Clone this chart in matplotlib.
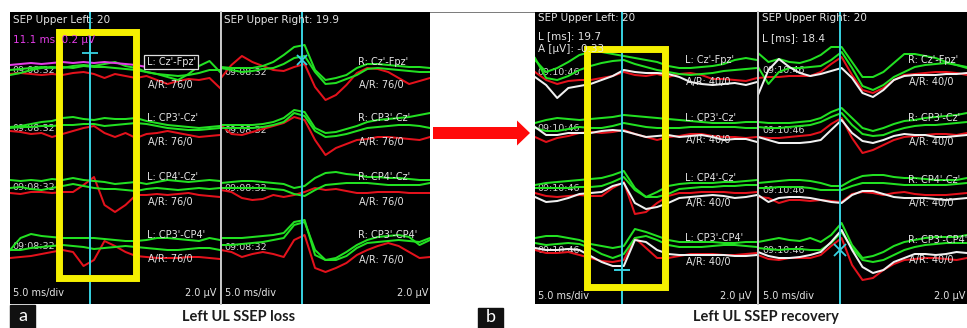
import numpy as np
import matplotlib.pyplot as plt
from matplotlib.patches import Rectangle, FancyArrow

nan = np.nan
W, H = 967, 328

# sweep: 2.5 ms samples, 5.0 ms/div, 10 div
t_ms = np.linspace(0, 50, 21)
# channel baselines (display units, 0 = top of screen)
base_loss = [5.8, 11.3, 17.3, 23.3]
base_rec = [5.8, 11.8, 17.8, 23.8]
cursor_ms = [19.0, 19.4, 19.6, 19.5]

# amplitudes, negative plotted upward
loss_L_green1 = [
    [0.5, 0.3, 0.0, -0.2, -0.3, -0.2, -0.4, -0.5, -0.4, -0.6, -0.8, -0.4, -0.2, 0.2, 0.4, 0.7, 1.0, 0.4, -0.4, -0.9, 0.2],
    [0.2, 0.1, -0.1, -0.3, -0.4, -0.7, -0.8, -0.6, -0.5, -0.7, -0.6, -0.6, -0.7, -0.4, -0.2, 0.0, 0.1, 0.2, 0.3, 0.2, 0.1],
    [-0.5, -0.4, -0.5, -0.4, -0.6, -0.5, -0.7, -0.5, -0.4, -0.3, -0.1, -0.2, -0.3, -0.1, -0.3, -0.5, -0.4, -0.3, -0.4, -0.5, -0.4],
    [0.5, -0.7, -1.1, -0.9, -0.8, -0.7, -0.7, -0.7, -0.7, -0.6, -0.5, -0.4, -0.4, -0.5, -0.7, -0.7, -0.6, -0.5, -0.4, -0.7, -0.5],
]
loss_L_green2 = [
    [0.0, -0.1, -0.2, -0.3, -0.2, -0.3, -0.2, -0.4, -0.3, -0.3, -0.2, -0.1, 0.0, 0.2, 0.4, 0.5, 0.6, 0.5, 0.3, 0.0, 0.0],
    [0.3, 0.2, 0.2, 0.1, 0.1, 0.0, 0.0, -0.1, -0.1, 0.1, 0.0, -0.1, -0.2, -0.1, 0.1, 0.3, 0.4, 0.5, 0.5, 0.4, 0.3],
    [0.3, 0.2, 0.4, 0.5, 0.3, 0.1, -0.1, 0.1, 0.3, 0.4, 0.4, 0.5, 0.6, 0.4, 0.3, 0.4, 0.5, 0.4, 0.3, 0.4, 0.3],
    [0.5, 0.5, 0.3, 0.2, 0.1, 0.0, 0.1, 0.2, 0.4, 0.3, 0.2, 0.1, 0.2, 0.3, 0.4, 0.5, 0.5, 0.4, 0.3, 0.3, 0.5],
]
loss_L_red = [
    [0.4, 0.3, 0.4, 0.5, 0.4, 0.5, 0.3, 0.2, 0.4, 0.8, 0.4, 0.6, 0.8, 0.6, 1.0, 1.4, 1.1, 0.9, 1.0, 0.8, 1.8],
    [0.6, 0.7, 0.9, 0.8, 1.2, 0.9, 0.6, 0.3, 0.1, 0.8, 1.2, 0.8, 1.3, 0.9, 0.8, 0.6, 0.8, 1.0, 1.2, 1.1, 1.0],
    [0.8, 0.9, 0.7, 0.7, 0.8, 0.7, 0.7, 0.0, -0.8, 2.0, 2.7, 2.0, 1.0, 1.0, 0.9, 1.0, 0.9, 0.8, 1.0, 1.1, 1.2],
    [1.3, 1.2, 1.1, 0.9, 0.7, 0.5, 0.7, 2.1, 1.5, -0.4, 0.1, 0.7, 1.1, 1.2, 1.3, 1.3, 1.3, 1.2, 1.2, 1.3, 1.4],
]
loss_L_magenta = [-0.5, -0.6, -0.7, -0.6, -0.7, -0.8, -0.7, -0.8, -0.7, -0.8, -0.7, -0.6, -0.5, -0.3, -0.2, -0.1,
                  nan, nan, nan, nan, nan]

loss_R_green1 = [
    [-0.3, -0.2, -0.2, -0.2, -0.4, -0.8, -1.5, -2.3, -2.5, 0.0, 1.0, 0.8, 0.5, -0.2, -0.6, -0.6, -0.5, -0.4, -0.3, -0.3, -0.2],
    [0.0, 0.0, 0.0, 0.0, -0.1, -0.3, -0.7, -1.5, -1.3, 0.3, 0.8, 0.7, 0.4, 0.1, -0.3, -0.5, -0.6, -0.7, -0.8, -1.0, -1.2],
    [-0.2, -0.3, -0.4, -0.4, -0.3, -0.2, -0.1, 0.3, 0.1, -0.7, -1.2, -1.3, -1.1, -1.0, -0.8, -0.8, -0.7, -0.7, -0.6, -0.5, -0.5],
    [-0.7, -0.7, -0.7, -0.8, -0.9, -1.0, -1.2, -2.3, -2.5, 1.0, 1.5, 1.3, 0.7, 0.0, -0.5, -0.8, -0.9, -1.0, -0.8, 0.0, -0.5],
]
loss_R_green2 = [
    [-0.2, 0.0, 0.2, 0.1, -0.1, -0.2, -0.6, -1.2, -1.4, 0.2, 1.4, 1.3, 0.9, 0.5, -0.1, -0.2, -0.1, 0.0, 0.1, 0.2, 0.2],
    [0.3, 0.3, 0.3, 0.3, 0.2, 0.0, -0.3, -1.2, -0.9, 0.6, 1.2, 1.1, 0.9, 0.6, 0.3, 0.2, 0.1, 0.0, 0.0, 0.1, 0.3],
    [0.3, 0.3, 0.3, 0.3, 0.3, 0.4, 0.5, 0.9, 1.1, 0.5, 0.0, -0.1, -0.2, -0.2, -0.2, -0.1, 0.0, 0.0, 0.0, 0.0, -0.2],
    [0.0, 0.0, -0.1, -0.2, -0.3, -0.5, -0.7, -2.0, -2.3, 0.5, 1.5, 1.5, 1.1, 0.3, -0.2, -0.3, -0.4, -0.5, -0.4, -0.3, -0.7],
]
loss_R_red = [
    [0.8, -0.5, -1.4, -0.8, -0.4, 0.0, 0.1, -0.3, -0.6, 1.7, 3.0, 2.5, 1.5, 0.3, -0.2, -0.1, 0.2, 0.8, 1.4, 1.1, 0.8],
    [0.0, 0.9, 1.0, 0.7, 0.4, 0.1, -0.2, -0.8, -0.5, 1.5, 3.0, 2.3, 1.9, 1.5, 1.4, 1.2, 1.2, 1.3, 1.4, 1.5, 1.2],
    [0.5, 0.7, 1.3, 1.5, 1.4, 1.0, 1.2, 1.0, 0.7, 0.3, 0.5, 0.4, 0.6, 0.8, 0.8, 0.7, 0.7, 0.7, 0.8, 0.8, 0.8],
    [0.5, 0.7, 1.2, 0.9, 0.7, 0.9, 1.2, -0.5, -1.0, 2.3, 2.7, 2.3, 1.8, 1.0, 0.5, 0.1, -0.2, 0.1, 0.7, 1.3, 1.2],
]

rec_L_green1 = [
    [-1.0, 0.2, -0.2, -0.8, -1.5, -1.8, -1.8, -1.6, -1.4, -1.2, -1.0, -0.8, -0.4, -0.2, -0.2, -0.3, -0.4, -0.6, -1.0, -1.2, -1.0],
    [-0.7, -1.0, -1.2, -1.1, -1.0, -1.1, -1.2, -1.3, -1.5, -1.4, -1.3, -1.2, -1.1, -1.0, -0.9, -0.8, -0.7, -0.7, -0.7, -0.8, -0.8],
    [-0.5, -0.7, -0.8, -0.9, -1.0, -1.1, -1.2, -1.5, -1.9, -0.2, 0.7, 0.2, -0.4, -0.6, -0.7, -0.7, -0.7, -0.8, -0.8, -0.9, -1.0],
    [-1.2, -1.4, -1.4, -1.2, -1.0, -0.6, -0.4, -0.2, -0.4, -2.1, -1.8, -1.4, -1.0, -0.8, -0.8, -0.8, -0.8, -0.7, -0.7, -0.8, -0.8],
]
rec_L_green2 = [
    [-1.2, 0.8, 1.0, 0.6, 0.0, -0.4, -0.7, -0.9, -1.0, -0.6, -0.3, 0.0, 0.2, 0.4, 0.5, 0.4, 0.3, 0.1, 0.0, -0.1, -0.2],
    [-0.2, 0.1, 0.1, -0.1, -0.3, -0.2, -0.2, -0.4, -0.7, -0.5, -0.3, -0.2, -0.2, -0.2, -0.3, -0.3, -0.3, -0.3, -0.3, -0.2, -0.2],
    [-0.2, -0.2, -0.2, -0.2, -0.3, -0.3, -0.4, -0.8, -1.3, 0.0, 0.7, 0.7, 0.4, -0.1, -0.2, -0.3, -0.3, -0.4, -0.4, -0.5, -0.5],
    [-0.7, -0.5, -0.6, -0.7, -0.6, -0.2, 0.4, 0.8, 0.4, -1.2, -1.4, -1.0, -0.5, -0.3, -0.3, -0.3, -0.4, -0.5, -0.5, -0.4, -0.3],
]
rec_L_red = [
    [0.2, 1.0, 1.4, 1.1, 1.0, 1.0, 0.8, 0.6, 0.2, 0.5, 0.6, 0.4, 0.7, 0.4, 0.3, 0.5, 0.9, 0.9, 1.0, 1.1, 0.8],
    [0.7, 1.2, 0.8, 0.6, 0.3, 0.2, 0.3, 0.2, 0.0, 0.4, 0.7, 1.0, 0.7, 0.6, 0.4, 0.4, 0.6, 0.7, 0.7, 0.8, 0.7],
    [0.3, 0.6, 0.7, 0.6, 0.5, 0.6, 0.6, -0.2, -0.8, 2.4, 2.2, 1.3, 0.6, 0.3, 0.3, 0.2, 0.2, 0.2, 0.3, 0.3, 0.2],
    [0.0, 0.3, 0.3, 0.2, 0.5, 0.8, 1.1, 1.2, 1.0, -1.2, -0.2, 0.8, 0.8, 0.6, 0.4, 0.4, 0.4, 0.5, 0.5, 0.4, 0.3],
]
rec_L_white = [
    [0.7, 1.5, 2.8, 1.8, 1.6, 1.4, 1.0, 0.6, 0.0, 0.2, 0.3, 0.3, 0.4, 0.7, 1.2, 1.4, 1.5, 1.4, 1.3, 1.5, 1.2],
    [-0.3, 0.5, 0.5, 0.3, 0.3, 0.3, 0.1, 0.0, 0.1, 0.4, 0.7, 0.6, 0.5, 0.7, 0.6, 0.5, 0.7, 1.0, 0.9, 0.9, 1.2],
    [0.7, 1.2, 1.1, 0.8, 0.4, 0.3, 0.2, -0.4, -0.7, 1.3, 1.9, 1.7, 1.3, 0.8, 0.7, 0.6, 0.5, 0.6, 0.8, 0.7, 0.5],
    [-0.2, 0.0, 0.0, -0.1, 0.0, 0.6, 1.2, 1.6, 1.6, -1.0, -0.8, 0.0, 0.4, 0.5, 0.5, 0.5, 0.5, 0.5, 0.6, 0.6, 0.5],
]

rec_R_green1 = [
    [-1.7, -0.8, -1.1, -0.8, -0.7, -1.0, -1.5, -2.3, -2.3, -0.8, 0.7, 0.7, 0.2, -0.7, -1.6, -1.6, -1.4, -1.2, -0.8, -0.5, -0.2],
    [-0.8, -0.7, -0.7, -0.7, -0.8, -0.9, -1.2, -1.8, -2.2, -1.2, -0.2, 0.1, -0.2, -0.6, -0.9, -1.0, -1.2, -1.3, -1.4, -1.5, -1.7],
    [-0.7, -0.8, -0.9, -1.0, -1.0, -0.9, -0.7, -0.4, -0.4, -1.0, -1.4, -1.5, -1.5, -1.3, -1.2, -1.2, -1.1, -1.0, -1.0, -1.0, -1.2],
    [-0.8, -1.0, -1.2, -1.0, -0.9, -1.2, -0.8, -1.5, -2.7, -0.5, 0.8, 0.6, 0.2, -0.4, -0.8, -1.0, -1.2, -1.3, -1.3, -1.3, -1.5],
]
rec_R_green2 = [
    [-0.3, 1.4, 0.2, -0.2, -0.2, -0.3, -0.4, -1.0, -1.8, -0.2, 1.6, 2.0, 1.5, 0.7, 0.2, -0.3, -0.5, -0.6, -0.7, -0.5, -0.3],
    [-0.3, -0.2, -0.2, -0.3, -0.4, -0.5, -0.8, -1.3, -1.7, -0.5, 0.4, 0.6, 0.5, 0.1, -0.2, -0.4, -0.5, -0.5, -0.6, -0.7, -0.8],
    [-0.2, -0.2, -0.3, -0.3, -0.3, -0.2, 0.0, 0.0, 0.0, -0.4, -0.7, -0.7, -0.7, -0.6, -0.5, -0.5, -0.5, -0.5, -0.5, -0.6, -0.7],
    [-0.2, -0.1, 0.0, -0.1, -0.1, 0.0, 0.0, -0.7, -1.8, -0.2, 1.0, 1.2, 1.0, 0.5, 0.0, -0.3, -0.5, -0.6, -0.7, -0.7, -0.7],
]
rec_R_red = [
    [0.8, 0.7, 0.7, 0.6, 0.6, 0.6, 0.2, -0.6, -1.3, 0.5, 2.0, 2.3, 1.8, 1.0, 0.5, 0.4, 0.3, 0.2, 0.2, 0.3, 0.5],
    [0.7, 0.8, 0.8, 0.7, 0.6, 0.5, 0.2, -0.6, -1.2, 0.8, 2.3, 2.0, 1.5, 1.0, 0.7, 0.6, 0.5, 0.4, 0.4, 0.5, 0.3],
    [0.7, 0.8, 1.3, 1.0, 1.0, 1.1, 1.0, 1.1, 1.2, 0.4, 0.2, 0.3, 0.5, 0.3, 0.2, 0.4, 0.5, 0.5, 0.5, 0.4, 0.3],
    [0.5, 0.9, 1.0, 0.8, 0.8, 0.8, 0.5, -0.4, -1.2, 1.5, 3.0, 2.8, 2.0, 1.4, 1.0, 0.9, 0.8, 0.8, 0.9, 1.0, 0.8],
]
rec_R_white = [
    [2.5, 0.0, -1.1, -0.3, 0.3, 0.6, 0.4, 0.1, -0.2, 0.8, 2.3, 2.7, 2.0, 1.0, 0.6, 0.5, 0.5, 0.5, 0.4, 0.4, 0.3],
    [0.7, 1.0, 1.3, 1.3, 1.3, 1.2, 1.0, 0.0, -1.0, 0.3, 1.1, 1.3, 1.0, 0.6, 0.4, 0.5, 0.5, 0.7, 0.7, 0.6, 0.5],
    [0.5, 1.2, 0.8, 0.7, 0.7, 0.8, 1.0, 1.2, 1.3, 0.5, 0.1, 0.1, 0.4, 0.7, 0.8, 0.8, 0.8, 0.9, 1.0, 0.9, 0.8],
    [0.2, 0.6, 0.8, 0.8, 0.7, 0.5, 0.2, -0.8, -2.0, 0.0, 1.7, 2.3, 2.0, 1.2, 0.8, 0.4, 0.4, 0.5, 0.4, 0.2, 0.3],
]

left_labels = ["L: Cz'-Fpz'", "L: CP3'-Cz'", "L: CP4'-Cz'", "L: CP3'-CP4'"]
right_labels = ["R: Cz'-Fpz'", "R: CP3'-Cz'", "R: CP4'-Cz'", "R: CP3'-CP4'"]
ar_loss = "A/R: 76/0"
ar_rec = "A/R: 40/0"
stamp_loss = "09:08:32"
stamp_rec = "09:10:46"

GREEN = '#22e022'
RED = '#e3121c'
WHITE = '#f0f0f0'
MAGENTA = '#e23ce6'
CYAN = '#38d2e2'
YELLOW = '#f5f000'
TXT = '#e4e4e4'

fig = plt.figure(figsize=(W / 100, H / 100), dpi=100)
fig.patch.set_facecolor('white')

# overlay in pixel units for the arrow and panel letters
ov = fig.add_axes([0, 0, 1, 1])
ov.set_xlim(0, W)
ov.set_ylim(H, 0)
ov.axis('off')
ov.add_patch(FancyArrow(433, 133, 97, 0, width=12, head_width=25, head_length=13,
                        length_includes_head=True, color='#ff0a0a', lw=0))
ov.add_patch(Rectangle((10, 305), 25, 23, color='#111111'))
ov.text(22.5, 316, 'a', color='white', fontsize=13, ha='center', va='center', family='Lato')
ov.add_patch(Rectangle((478, 308), 25, 20, color='#111111'))
ov.text(490.5, 317.5, 'b', color='white', fontsize=13, ha='center', va='center', family='Lato')
ov.plot([10, W], [12, 12], color='#7a7a7a', lw=0.7)


def panel(x0, x1, divider=False):
    ax = fig.add_axes([x0 / W, 1 - 304 / H, (x1 - x0) / W, 292 / H])
    ax.set_facecolor('black')
    ax.set_xlim(0, 50)
    ax.set_ylim(29.2, 0)
    ax.set_xticks([])
    ax.set_yticks([])
    for s in ax.spines.values():
        s.set_visible(False)
    if divider:
        ax.spines['left'].set_visible(True)
        ax.spines['left'].set_color('#c8c8c8')
        ax.spines['left'].set_linewidth(1.4)
    return ax


def traces(ax, base, layers):
    for vals, color, z in layers:
        for b, ch in zip(base, vals):
            ax.plot(t_ms, b + np.asarray(ch, float), color=color, lw=1.45, zorder=z,
                    solid_joinstyle='round')


def txt(ax, x, y, s, size=7, color=TXT, ha='left', z=6, **kw):
    return ax.text(x, y, s, color=color, fontsize=size, ha=ha, va='center', zorder=z,
                   clip_on=True, **kw)


def channel_text(ax, x_lab, x_ar, lab_y, ar_y, labels, ar, x_st, st_y, stamp, boxed=False):
    for i, (lab, y) in enumerate(zip(labels, lab_y)):
        t = txt(ax, x_lab, y, lab)
        if boxed and i == 0:
            t.set_bbox(dict(boxstyle='square,pad=0.25', fc='black', ec='#e0e0e0', lw=0.9))
    for y in ar_y:
        txt(ax, x_ar, y, ar)
    for y in st_y:
        txt(ax, x_st, y, stamp, size=6.8, color='#d8d8d8', z=1.5)


# ---- a: loss ----
axA = panel(10, 220)
traces(axA, base_loss, [(loss_L_red, RED, 2), (loss_L_green1, GREEN, 2.1),
                        (loss_L_green2, GREEN, 2.1)])
axA.plot(t_ms, base_loss[0] + np.asarray(loss_L_magenta, float), color=MAGENTA, lw=1.45, zorder=2.3)
axA.axvline(cursor_ms[0], color=CYAN, lw=1.4, zorder=3)
axA.plot(cursor_ms[0], 4.1, marker='+', ms=11, mew=1.3, color=CYAN, zorder=3)
txt(axA, 0.7, 0.8, 'SEP Upper Left: 20', size=7.5)
txt(axA, 0.7, 2.8, '11.1 ms  0.2 µV', size=7.5, color=MAGENTA)
channel_text(axA, 32.6, 32.8, [5.0, 10.6, 16.5, 22.3], [7.3, 13.0, 19.0, 24.7],
             left_labels, ar_loss, 0.5, [5.8, 11.6, 17.5, 23.4], stamp_loss, boxed=True)
txt(axA, 0.7, 28.1, '5.0 ms/div')
txt(axA, 49.2, 28.1, '2.0 µV', ha='right')
axA.add_patch(Rectangle((11.55, 1.95), 18.55, 24.65, fill=False, ec=YELLOW, lw=5, zorder=5))

axB = panel(221, 430, divider=True)
traces(axB, base_loss, [(loss_R_red, RED, 2), (loss_R_green1, GREEN, 2.1),
                        (loss_R_green2, GREEN, 2.1)])
axB.axvline(cursor_ms[1], color=CYAN, lw=1.4, zorder=3)
axB.plot(cursor_ms[1], 4.8, marker='x', ms=7, mew=1.3, color=CYAN, zorder=3)
txt(axB, 0.7, 0.8, 'SEP Upper Right: 19.9', size=7.5)
channel_text(axB, 32.8, 33.0, [5.0, 10.6, 16.5, 22.3], [7.3, 13.0, 19.0, 24.8],
             right_labels, ar_loss, 0.7, [6.0, 11.8, 17.6, 23.5], stamp_loss)
txt(axB, 0.9, 28.1, '5.0 ms/div')
txt(axB, 49.6, 28.1, '2.0 µV', ha='right')

# ---- b: recovery ----
axC = panel(535, 757)
traces(axC, base_rec, [(rec_L_red, RED, 2), (rec_L_green1, GREEN, 2.1),
                       (rec_L_green2, GREEN, 2.1), (rec_L_white, WHITE, 2.2)])
axC.axvline(cursor_ms[2], color=CYAN, lw=1.4, zorder=3)
axC.plot(cursor_ms[2], 25.8, marker='_', ms=11, mew=1.4, color=CYAN, zorder=3)
txt(axC, 0.7, 0.6, 'SEP Upper Left: 20', size=7.5)
txt(axC, 0.7, 2.4, 'L [ms]: 19.7', size=7.5)
txt(axC, 0.7, 3.7, 'A [µV]: -0.33', size=7.5)
channel_text(axC, 33.8, 34.0, [4.8, 10.6, 16.6, 22.6], [7.0, 12.8, 19.1, 25.0],
             left_labels, ar_rec, 0.5, [6.0, 11.6, 17.6, 23.8], stamp_rec)
txt(axC, 0.7, 28.4, '5.0 ms/div')
txt(axC, 48.8, 28.4, '2.0 µV', ha='right')
axC.add_patch(Rectangle((11.6, 3.65), 17.7, 23.8, fill=False, ec=YELLOW, lw=5, zorder=5))

axD = panel(758, 967, divider=True)
traces(axD, base_rec, [(rec_R_red, RED, 2), (rec_R_green1, GREEN, 2.1),
                       (rec_R_green2, GREEN, 2.1), (rec_R_white, WHITE, 2.2)])
axD.axvline(cursor_ms[3], color=CYAN, lw=1.4, zorder=3)
axD.plot(cursor_ms[3], 23.8, marker='x', ms=8, mew=1.3, color=CYAN, zorder=3)
txt(axD, 1.0, 0.6, 'SEP Upper Right: 20', size=7.5)
txt(axD, 1.0, 2.6, 'L [ms]: 18.4', size=7.5)
channel_text(axD, 35.8, 36.1, [4.8, 10.6, 16.8, 22.8], [7.0, 13.0, 19.1, 24.8],
             right_labels, ar_rec, 1.0, [5.8, 11.8, 17.8, 23.8], stamp_rec)
txt(axD, 1.2, 28.4, '5.0 ms/div')
txt(axD, 49.6, 28.4, '2.0 µV', ha='right')

fig.text(239 / W, 1 - 317 / H, 'Left UL SSEP loss', ha='center', va='center',
         fontsize=10.5, fontweight='bold', family='Lato', color='#1c1c1c')
fig.text(766 / W, 1 - 317 / H, 'Left UL SSEP recovery', ha='center', va='center',
         fontsize=10.5, fontweight='bold', family='Lato', color='#1c1c1c')

fig.savefig('out.png', dpi=100, facecolor='white')
